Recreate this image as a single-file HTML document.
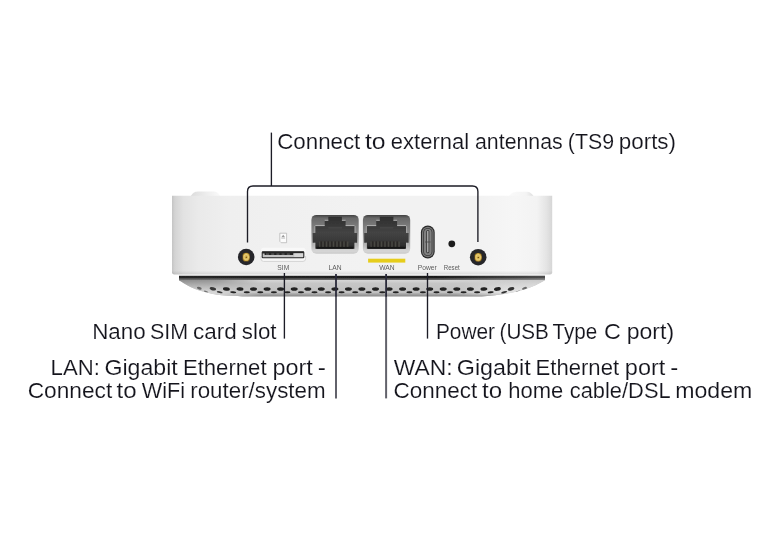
<!DOCTYPE html>
<html lang="en">
<head>
<meta charset="utf-8">
<title>Rear panel connections</title>
<style>
html,body{margin:0;padding:0;background:#fff;}
body{width:779px;height:536px;overflow:hidden;position:relative;font-family:"Liberation Sans",sans-serif;}
svg{position:absolute;left:0;top:0;display:block;}
text{font-family:"Liberation Sans",sans-serif;}
.big{font-size:21.5px;fill:#14141c;stroke:#fff;stroke-width:0.14px;paint-order:fill stroke;}
.tiny{font-size:6.7px;fill:#5c5c5c;}
</style>
</head>
<body>
<svg width="779" height="536" viewBox="0 0 779 536">
<defs>
  <filter id="soft" x="-5%" y="-5%" width="110%" height="110%"><feGaussianBlur stdDeviation="0.45"/></filter>
  <linearGradient id="bodyG" x1="0" y1="0" x2="1" y2="0">
    <stop offset="0" stop-color="#c4c4c4"/>
    <stop offset="0.008" stop-color="#d4d4d4"/>
    <stop offset="0.03" stop-color="#e2e2e2"/>
    <stop offset="0.07" stop-color="#eaeaea"/>
    <stop offset="0.15" stop-color="#efefef"/>
    <stop offset="0.5" stop-color="#f2f2f2"/>
    <stop offset="0.8" stop-color="#f2f2f2"/>
    <stop offset="0.9" stop-color="#f6f6f6"/>
    <stop offset="0.96" stop-color="#f3f3f3"/>
    <stop offset="0.985" stop-color="#e4e4e4"/>
    <stop offset="1" stop-color="#d6d6d6"/>
  </linearGradient>
  <linearGradient id="bumpL" x1="0" y1="0" x2="1" y2="0">
    <stop offset="0" stop-color="#dcdcdc"/><stop offset="0.5" stop-color="#ececec"/><stop offset="1" stop-color="#fafafa"/>
  </linearGradient>
  <linearGradient id="bumpR" x1="0" y1="0" x2="1" y2="0">
    <stop offset="0" stop-color="#fafafa"/><stop offset="0.7" stop-color="#f4f4f4"/><stop offset="1" stop-color="#dedede"/>
  </linearGradient>
  <linearGradient id="bodyShade" x1="0" y1="0" x2="0" y2="1">
    <stop offset="0" stop-color="#fff" stop-opacity="0"/>
    <stop offset="0.06" stop-color="#fff" stop-opacity="0"/>
    <stop offset="0.95" stop-color="#000" stop-opacity="0"/>
    <stop offset="1" stop-color="#000" stop-opacity="0.10"/>
  </linearGradient>
  <linearGradient id="baseMid" x1="0" y1="276" x2="0" y2="296.6" gradientUnits="userSpaceOnUse">
    <stop offset="0" stop-color="#d2d2d2"/>
    <stop offset="0.2" stop-color="#d6d6d6"/>
    <stop offset="0.36" stop-color="#c6c6c6"/>
    <stop offset="0.8" stop-color="#c0c0c0"/>
    <stop offset="0.86" stop-color="#aaaaaa"/>
    <stop offset="1" stop-color="#858585"/>
  </linearGradient>
  <linearGradient id="baseL" x1="0" y1="278" x2="0" y2="296" gradientUnits="userSpaceOnUse">
    <stop offset="0" stop-color="#7e7e7e"/>
    <stop offset="0.35" stop-color="#a8a8a8"/>
    <stop offset="0.75" stop-color="#d6d6d6"/>
    <stop offset="1" stop-color="#e6e6e6"/>
  </linearGradient>
  <linearGradient id="baseR" x1="0" y1="278" x2="0" y2="296" gradientUnits="userSpaceOnUse">
    <stop offset="0" stop-color="#c4c4c4"/>
    <stop offset="0.35" stop-color="#d6d6d6"/>
    <stop offset="0.8" stop-color="#e9e9e9"/>
    <stop offset="0.92" stop-color="#dcdcdc"/>
    <stop offset="1" stop-color="#b4b4b4"/>
  </linearGradient>
  <linearGradient id="fadeL" x1="179" y1="0" x2="262" y2="0" gradientUnits="userSpaceOnUse">
    <stop offset="0" stop-color="#fff"/>
    <stop offset="0.45" stop-color="#fff" stop-opacity="0.85"/>
    <stop offset="1" stop-color="#fff" stop-opacity="0"/>
  </linearGradient>
  <linearGradient id="fadeR" x1="545" y1="0" x2="455" y2="0" gradientUnits="userSpaceOnUse">
    <stop offset="0" stop-color="#fff"/>
    <stop offset="0.45" stop-color="#fff" stop-opacity="0.85"/>
    <stop offset="1" stop-color="#fff" stop-opacity="0"/>
  </linearGradient>
  <mask id="mL" maskUnits="userSpaceOnUse" x="170" y="270" width="100" height="30"><rect x="170" y="270" width="100" height="30" fill="url(#fadeL)"/></mask>
  <mask id="mR" maskUnits="userSpaceOnUse" x="450" y="270" width="100" height="30"><rect x="450" y="270" width="100" height="30" fill="url(#fadeR)"/></mask>
  <linearGradient id="lineG" x1="0" y1="275.8" x2="0" y2="280" gradientUnits="userSpaceOnUse">
    <stop offset="0" stop-color="#181818"/>
    <stop offset="0.5" stop-color="#1c1c1c"/>
    <stop offset="0.62" stop-color="#444"/>
    <stop offset="1" stop-color="#6c6c6c"/>
  </linearGradient>
  <linearGradient id="lineFade" x1="179" y1="0" x2="545" y2="0" gradientUnits="userSpaceOnUse">
    <stop offset="0" stop-color="#fff" stop-opacity="0.05"/>
    <stop offset="0.7" stop-color="#fff" stop-opacity="0"/>
    <stop offset="1" stop-color="#fff" stop-opacity="0.22"/>
  </linearGradient>
  <linearGradient id="portFrame" x1="0" y1="0" x2="0" y2="1">
    <stop offset="0" stop-color="#3e3e3e"/>
    <stop offset="0.08" stop-color="#686868"/>
    <stop offset="0.45" stop-color="#8a8a8a"/>
    <stop offset="0.8" stop-color="#b8b8b8"/>
    <stop offset="0.93" stop-color="#d6d6d6"/>
    <stop offset="1" stop-color="#cacaca"/>
  </linearGradient>
  <linearGradient id="portIn" x1="0" y1="0" x2="0" y2="1">
    <stop offset="0" stop-color="#2e2e2e"/>
    <stop offset="0.3" stop-color="#3a3a3a"/>
    <stop offset="0.5" stop-color="#444"/>
    <stop offset="0.8" stop-color="#363636"/>
    <stop offset="1" stop-color="#242424"/>
  </linearGradient>
  <radialGradient id="gold" cx="0.5" cy="0.5" r="0.5">
    <stop offset="0" stop-color="#e6c970"/>
    <stop offset="0.35" stop-color="#dbb650"/>
    <stop offset="0.6" stop-color="#e6cd7c"/>
    <stop offset="0.85" stop-color="#c9a23c"/>
    <stop offset="1" stop-color="#7d6020"/>
  </radialGradient>
  <clipPath id="baseClip"><path d="M179 276 H545 V280.3 C539 283.8 532 287 526 289 C516 292 506 294 495 295.3 C488 296.2 482 296.6 472 296.6 H252 C242 296.6 236 296.4 231.6 296.1 C222 295.5 216 294.8 211 293.6 C204 292 196 289.6 190.5 286.9 C186 284.7 182 282.2 179 280.3 Z"/></clipPath>
  <g id="rj45">
    <rect x="0" y="0" width="47.3" height="38.8" rx="5" fill="url(#portFrame)"/>
    <path d="M16.9 1.9 H30.5 V5.6 H34.2 V10.9 H43.1 V18 H45.7 V27.8 H43.1 V33.9 H3.9 V27.8 H1.3 V18 H3.9 V10.9 H13.3 V5.6 H16.9 Z" fill="url(#portIn)"/>
    <path d="M13.3 5.4 H16.9 M30.5 5.4 H34.2 M3.9 10.7 H13.3 M34.2 10.7 H43.1" stroke="#d0d0d0" stroke-width="0.8" fill="none" opacity="0.9"/>
    <path d="M3.4 11 V18 M3.4 27.8 V34 M43.7 11 V18 M43.7 27.8 V34" stroke="#c4c4c4" stroke-width="0.7" fill="none" opacity="0.7"/>
    <rect x="17" y="12.6" width="13.5" height="0.8" fill="#5a5a5a" opacity="0.7"/>
    <rect x="7.6" y="26.6" width="29.4" height="5.6" fill="#484642"/>
    <g fill="#2a2826">
      <rect x="8.9" y="26.4" width="1.9" height="6.6"/><rect x="12.4" y="26.4" width="1.9" height="6.6"/><rect x="15.9" y="26.4" width="1.9" height="6.6"/><rect x="19.4" y="26.4" width="1.9" height="6.6"/><rect x="22.9" y="26.4" width="1.9" height="6.6"/><rect x="26.4" y="26.4" width="1.9" height="6.6"/><rect x="29.9" y="26.4" width="1.9" height="6.6"/><rect x="33.4" y="26.4" width="1.9" height="6.6"/>
    </g>
    <rect x="5" y="32" width="37" height="1.9" fill="#181818"/>
  </g>
  <g id="ant">
    <circle r="8.3" fill="#26262a"/>
    <rect x="-3.7" y="-4.3" width="7.4" height="8.8" rx="3.1" fill="url(#gold)"/>
    <circle cx="0.1" cy="0.3" r="0.8" fill="#6e4e12"/>
  </g>
</defs>

<g filter="url(#soft)">
<!-- device body -->
<path d="M190.8 196 C193.5 192 195.5 191.5 199 191.5 L214 191.5 C217.5 191.6 219 193.6 220 196 Z" fill="url(#bumpL)"/>
<path d="M509 196 C512 192.4 514.5 191.8 518 191.8 L527 191.8 C530 191.9 531.5 193.4 533.5 196 Z" fill="url(#bumpR)"/>
<path d="M172 195.7 H552.2 V272.2 Q552.2 274.6 549.8 274.6 H174.4 Q172 274.6 172 272.2 Z" fill="url(#bodyG)"/>
<path d="M172 195.7 H552.2 V272.2 Q552.2 274.6 549.8 274.6 H174.4 Q172 274.6 172 272.2 Z" fill="url(#bodyShade)"/>

<!-- base / grille -->
<path d="M179 276 H545 V280.3 C539 283.8 532 287 526 289 C516 292 506 294 495 295.3 C488 296.2 482 296.6 472 296.6 H252 C242 296.6 236 296.4 231.6 296.1 C222 295.5 216 294.8 211 293.6 C204 292 196 289.6 190.5 286.9 C186 284.7 182 282.2 179 280.3 Z" fill="url(#baseMid)"/>
<g clip-path="url(#baseClip)">
  <rect x="170" y="270" width="100" height="30" fill="url(#baseL)" mask="url(#mL)"/>
  <rect x="450" y="270" width="100" height="30" fill="url(#baseR)" mask="url(#mR)"/>
  <g fill="#202020"><ellipse cx="199.3" cy="288.3" rx="2.47" ry="1.24" opacity="0.56" transform="rotate(18 199.3 288.3)"/><ellipse cx="212.9" cy="288.8" rx="3.26" ry="1.63" opacity="0.86" transform="rotate(13 212.9 288.8)"/><ellipse cx="226.4" cy="289.0" rx="3.50" ry="1.75" opacity="1.00" transform="rotate(8 226.4 289.0)"/><ellipse cx="240.0" cy="289.0" rx="3.50" ry="1.75" opacity="1.00" transform="rotate(4 240.0 289.0)"/><ellipse cx="253.5" cy="289.0" rx="3.50" ry="1.75" opacity="1.00" transform="rotate(0 253.5 289.0)"/><ellipse cx="267.1" cy="289.0" rx="3.50" ry="1.75" opacity="1.00" transform="rotate(0 267.1 289.0)"/><ellipse cx="280.6" cy="289.0" rx="3.50" ry="1.75" opacity="1.00" transform="rotate(0 280.6 289.0)"/><ellipse cx="294.2" cy="289.0" rx="3.50" ry="1.75" opacity="1.00" transform="rotate(0 294.2 289.0)"/><ellipse cx="307.8" cy="289.0" rx="3.50" ry="1.75" opacity="1.00" transform="rotate(0 307.8 289.0)"/><ellipse cx="321.3" cy="289.0" rx="3.50" ry="1.75" opacity="1.00" transform="rotate(0 321.3 289.0)"/><ellipse cx="334.9" cy="289.0" rx="3.50" ry="1.75" opacity="1.00" transform="rotate(0 334.9 289.0)"/><ellipse cx="348.4" cy="289.0" rx="3.50" ry="1.75" opacity="1.00" transform="rotate(0 348.4 289.0)"/><ellipse cx="361.9" cy="289.0" rx="3.50" ry="1.75" opacity="1.00" transform="rotate(0 361.9 289.0)"/><ellipse cx="375.5" cy="289.0" rx="3.50" ry="1.75" opacity="1.00" transform="rotate(0 375.5 289.0)"/><ellipse cx="389.1" cy="289.0" rx="3.50" ry="1.75" opacity="1.00" transform="rotate(0 389.1 289.0)"/><ellipse cx="402.6" cy="289.0" rx="3.50" ry="1.75" opacity="1.00" transform="rotate(0 402.6 289.0)"/><ellipse cx="416.1" cy="289.0" rx="3.50" ry="1.75" opacity="1.00" transform="rotate(0 416.1 289.0)"/><ellipse cx="429.7" cy="289.0" rx="3.50" ry="1.75" opacity="1.00" transform="rotate(0 429.7 289.0)"/><ellipse cx="443.2" cy="289.0" rx="3.50" ry="1.75" opacity="1.00" transform="rotate(0 443.2 289.0)"/><ellipse cx="456.8" cy="289.0" rx="3.50" ry="1.75" opacity="1.00" transform="rotate(0 456.8 289.0)"/><ellipse cx="470.4" cy="289.0" rx="3.50" ry="1.75" opacity="1.00" transform="rotate(0 470.4 289.0)"/><ellipse cx="483.9" cy="289.0" rx="3.50" ry="1.75" opacity="1.00" transform="rotate(-4 483.9 289.0)"/><ellipse cx="497.4" cy="289.0" rx="3.50" ry="1.75" opacity="1.00" transform="rotate(-10 497.4 289.0)"/><ellipse cx="511.0" cy="288.9" rx="3.38" ry="1.69" opacity="0.91" transform="rotate(-16 511.0 288.9)"/><ellipse cx="524.5" cy="288.4" rx="2.59" ry="1.30" opacity="0.60" transform="rotate(-22 524.5 288.4)"/><ellipse cx="206.1" cy="291.6" rx="2.28" ry="0.70" opacity="0.55" transform="rotate(16 206.1 291.6)"/><ellipse cx="219.7" cy="292.2" rx="2.98" ry="0.91" opacity="0.85" transform="rotate(11 219.7 292.2)"/><ellipse cx="233.2" cy="292.3" rx="3.10" ry="0.95" opacity="1.00" transform="rotate(6 233.2 292.3)"/><ellipse cx="246.8" cy="292.3" rx="3.10" ry="0.95" opacity="1.00" transform="rotate(1 246.8 292.3)"/><ellipse cx="260.3" cy="292.3" rx="3.10" ry="0.95" opacity="1.00" transform="rotate(0 260.3 292.3)"/><ellipse cx="273.9" cy="292.3" rx="3.10" ry="0.95" opacity="1.00" transform="rotate(0 273.9 292.3)"/><ellipse cx="287.4" cy="292.3" rx="3.10" ry="0.95" opacity="1.00" transform="rotate(0 287.4 292.3)"/><ellipse cx="301.0" cy="292.3" rx="3.10" ry="0.95" opacity="1.00" transform="rotate(0 301.0 292.3)"/><ellipse cx="314.5" cy="292.3" rx="3.10" ry="0.95" opacity="1.00" transform="rotate(0 314.5 292.3)"/><ellipse cx="328.1" cy="292.3" rx="3.10" ry="0.95" opacity="1.00" transform="rotate(0 328.1 292.3)"/><ellipse cx="341.6" cy="292.3" rx="3.10" ry="0.95" opacity="1.00" transform="rotate(0 341.6 292.3)"/><ellipse cx="355.2" cy="292.3" rx="3.10" ry="0.95" opacity="1.00" transform="rotate(0 355.2 292.3)"/><ellipse cx="368.7" cy="292.3" rx="3.10" ry="0.95" opacity="1.00" transform="rotate(0 368.7 292.3)"/><ellipse cx="382.3" cy="292.3" rx="3.10" ry="0.95" opacity="1.00" transform="rotate(0 382.3 292.3)"/><ellipse cx="395.8" cy="292.3" rx="3.10" ry="0.95" opacity="1.00" transform="rotate(0 395.8 292.3)"/><ellipse cx="409.4" cy="292.3" rx="3.10" ry="0.95" opacity="1.00" transform="rotate(0 409.4 292.3)"/><ellipse cx="422.9" cy="292.3" rx="3.10" ry="0.95" opacity="1.00" transform="rotate(0 422.9 292.3)"/><ellipse cx="436.5" cy="292.3" rx="3.10" ry="0.95" opacity="1.00" transform="rotate(0 436.5 292.3)"/><ellipse cx="450.0" cy="292.3" rx="3.10" ry="0.95" opacity="1.00" transform="rotate(0 450.0 292.3)"/><ellipse cx="463.6" cy="292.3" rx="3.10" ry="0.95" opacity="1.00" transform="rotate(0 463.6 292.3)"/><ellipse cx="477.1" cy="292.3" rx="3.10" ry="0.95" opacity="1.00" transform="rotate(-1 477.1 292.3)"/><ellipse cx="490.7" cy="292.3" rx="3.10" ry="0.95" opacity="1.00" transform="rotate(-7 490.7 292.3)"/><ellipse cx="504.2" cy="292.3" rx="3.09" ry="0.95" opacity="0.90" transform="rotate(-13 504.2 292.3)"/><ellipse cx="517.8" cy="291.7" rx="2.39" ry="0.73" opacity="0.59" transform="rotate(-19 517.8 291.7)"/></g>
</g>
<path d="M179 275.8 H545 V279.9 H181 L179 280.3 Z" fill="url(#lineG)"/>
<path d="M179 275.8 H545 V279.9 H181 L179 280.3 Z" fill="url(#lineFade)"/>

<!-- antenna connectors -->
<use href="#ant" x="246.2" y="257"/>
<use href="#ant" x="478.2" y="257.2"/>

<!-- SIM slot -->
<rect x="261" y="247.8" width="44.6" height="13.6" rx="2.6" fill="#f8f8f8"/>
<path d="M261 256 V258.8 Q261 261.4 263.6 261.4 H303 Q305.6 261.4 305.6 258.8 V256" fill="none" stroke="#d4d4d4" stroke-width="1"/>
<rect x="262.2" y="251.8" width="41.6" height="6" rx="0.7" fill="#c2c2c2"/>
<path d="M262.2 251.8 H303.8 V253.2 H293.2 V255 H264.6 V253.6 H262.2 Z" fill="#262626"/>
<path d="M266 254.1 H290" stroke="#8a8a8a" stroke-width="0.7" stroke-dasharray="3 2.2" fill="none"/>
<rect x="294.2" y="253.4" width="8.8" height="3.6" fill="#d6d6d6"/>
<rect x="262.2" y="251.8" width="41.6" height="6" rx="0.7" fill="none" stroke="#242424" stroke-width="1.05"/>
<path d="M279.8 233.2 H286.6 V242.7 H281.2 L279.8 241.3 Z" fill="#fcfcfc" stroke="#b8b8b8" stroke-width="0.8" stroke-linejoin="round"/>
<path d="M281.3 237.3 L283.2 234.7 L285.1 237.3 Z" fill="#9a9a9a"/>
<rect x="281.3" y="237.8" width="3.8" height="0.7" fill="#b0b0b0"/>

<!-- Ethernet ports -->
<use href="#rj45" x="311.4" y="214.9"/>
<use href="#rj45" x="362.9" y="214.9"/>
<rect x="368.1" y="258.7" width="37.2" height="3.9" fill="#e6cd1e"/>

<!-- USB-C -->
<rect x="420.9" y="225.6" width="13.8" height="32.8" rx="6.9" fill="#2a2a2a"/>
<rect x="422" y="226.7" width="11.6" height="30.6" rx="5.8" fill="#7a7a7a"/>
<rect x="423.2" y="227.9" width="9.2" height="28.2" rx="4.6" fill="#3a3a3a"/>
<rect x="424" y="228.7" width="7.6" height="26.6" rx="3.8" fill="#808080"/>
<rect x="426.3" y="229.9" width="3" height="23.4" rx="1.5" fill="#303030"/>
<rect x="427.1" y="230.7" width="1.4" height="21.8" rx="0.7" fill="#b4b4b4"/>
<rect x="425" y="241.6" width="5.6" height="0.8" fill="#4a4a4a"/>

<!-- Reset -->
<circle cx="451.8" cy="243.8" r="3.4" fill="#1e1e1e"/>
<g>
<text class="tiny" x="283.3" y="269.9" text-anchor="middle">SIM</text>
<text class="tiny" x="335" y="269.9" text-anchor="middle">LAN</text>
<text class="tiny" x="386.9" y="269.9" text-anchor="middle">WAN</text>
<text class="tiny" x="427.3" y="269.9" text-anchor="middle">Power</text>
<text class="tiny" x="451.8" y="269.9" text-anchor="middle" textLength="16" lengthAdjust="spacingAndGlyphs">Reset</text>
</g>
</g>



<!-- callout lines -->
<g fill="none" stroke="#1c1c26" stroke-width="1.35">
  <path d="M271.4 132.6 V186"/>
  <path d="M247.5 242.4 V191.5 Q247.5 186 253 186 H472.4 Q477.9 186 477.9 191.5 V242"/>
  <path d="M284.4 273 V338.6"/>
  <path d="M427.5 273 V338.6"/>
</g>
<g fill="none" stroke="#2a2a3a" stroke-width="1.8">
  <path d="M336 274 V297"/>
  <path d="M386.1 274 V297"/>
</g>
<g fill="none" stroke="#62626b" stroke-width="2">
  <path d="M336 296.8 V398.4"/>
  <path d="M386.1 296.8 V398.4"/>
</g>

<!-- labels -->
<g opacity="0.999">
<text class="big" y="148.9"><tspan x="277.20" textLength="83.15" lengthAdjust="spacingAndGlyphs">Connect</tspan> <tspan x="364.92" textLength="20.66" lengthAdjust="spacingAndGlyphs">to</tspan> <tspan x="390.88" textLength="78.15" lengthAdjust="spacingAndGlyphs">external</tspan> <tspan x="475.01" textLength="87.75" lengthAdjust="spacingAndGlyphs">antennas</tspan> <tspan x="567.81" textLength="46.28" lengthAdjust="spacingAndGlyphs">(TS9</tspan> <tspan x="618.84" textLength="57.19" lengthAdjust="spacingAndGlyphs">ports)</tspan></text>
<text class="big" y="338.6"><tspan x="92.18" textLength="53.46" lengthAdjust="spacingAndGlyphs">Nano</tspan> <tspan x="149.95" textLength="38.23" lengthAdjust="spacingAndGlyphs">SIM</tspan> <tspan x="192.96" textLength="43.69" lengthAdjust="spacingAndGlyphs">card</tspan> <tspan x="241.82" textLength="34.70" lengthAdjust="spacingAndGlyphs">slot</tspan></text>
<text class="big" y="375.0"><tspan x="50.60" textLength="49.23" lengthAdjust="spacingAndGlyphs">LAN:</tspan> <tspan x="104.46" textLength="73.25" lengthAdjust="spacingAndGlyphs">Gigabit</tspan> <tspan x="182.90" textLength="83.69" lengthAdjust="spacingAndGlyphs">Ethernet</tspan> <tspan x="272.57" textLength="40.27" lengthAdjust="spacingAndGlyphs">port</tspan> <tspan x="317.76" textLength="8.18" lengthAdjust="spacingAndGlyphs">-</tspan></text>
<text class="big" y="397.8"><tspan x="27.68" textLength="84.58" lengthAdjust="spacingAndGlyphs">Connect</tspan> <tspan x="116.44" textLength="20.11" lengthAdjust="spacingAndGlyphs">to</tspan> <tspan x="141.75" textLength="43.24" lengthAdjust="spacingAndGlyphs">WiFi</tspan> <tspan x="190.24" textLength="135.30" lengthAdjust="spacingAndGlyphs">router/system</tspan></text>
<text class="big" y="338.6"><tspan x="435.90" textLength="59.14" lengthAdjust="spacingAndGlyphs">Power</tspan> <tspan x="499.56" textLength="49.36" lengthAdjust="spacingAndGlyphs">(USB</tspan> <tspan x="552.52" textLength="44.76" lengthAdjust="spacingAndGlyphs">Type</tspan> <tspan x="604.04" textLength="16.88" lengthAdjust="spacingAndGlyphs">C</tspan> <tspan x="626.69" textLength="47.38" lengthAdjust="spacingAndGlyphs">port)</tspan></text>
<text class="big" y="375.0"><tspan x="393.73" textLength="58.79" lengthAdjust="spacingAndGlyphs">WAN:</tspan> <tspan x="456.85" textLength="73.76" lengthAdjust="spacingAndGlyphs">Gigabit</tspan> <tspan x="535.50" textLength="83.59" lengthAdjust="spacingAndGlyphs">Ethernet</tspan> <tspan x="624.86" textLength="40.48" lengthAdjust="spacingAndGlyphs">port</tspan> <tspan x="670.38" textLength="8.03" lengthAdjust="spacingAndGlyphs">-</tspan></text>
<text class="big" y="397.8"><tspan x="393.49" textLength="83.77" lengthAdjust="spacingAndGlyphs">Connect</tspan> <tspan x="481.94" textLength="20.11" lengthAdjust="spacingAndGlyphs">to</tspan> <tspan x="508.27" textLength="55.00" lengthAdjust="spacingAndGlyphs">home</tspan> <tspan x="569.79" textLength="100.02" lengthAdjust="spacingAndGlyphs">cable/DSL</tspan> <tspan x="675.19" textLength="77.07" lengthAdjust="spacingAndGlyphs">modem</tspan></text>
</g>
</svg>
</body>
</html>
